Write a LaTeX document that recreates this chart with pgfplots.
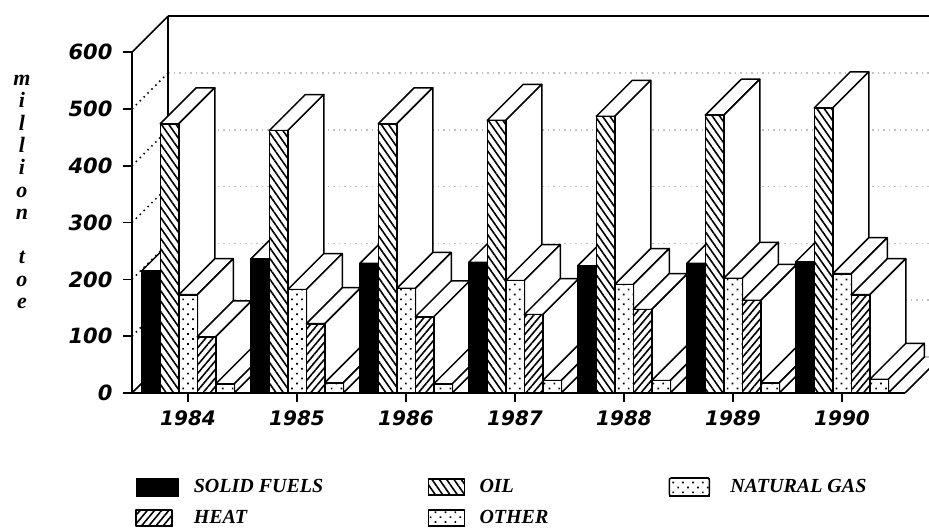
\documentclass[border=0pt]{standalone}
\usepackage{fontspec}
\setmainfont{Liberation Serif}
\newfontfamily\djv{DejaVu Sans}
\newfontfamily\lser{Liberation Serif}
\usepackage{pgfplots}
\pgfplotsset{compat=1.18}
\usepackage{pgfplotstable}
\usetikzlibrary{patterns.meta}

\newcommand\tickfnt{\djv\bfseries\itshape\fontsize{21}{24}\selectfont}
\newcommand\yearfnt{\djv\bfseries\itshape\fontsize{20}{24}\selectfont}
\newcommand\legfnt{\lser\bfseries\itshape\fontsize{20}{24}\selectfont}
\newcommand\labfnt{\lser\bfseries\itshape\fontsize{22}{22.3}\selectfont}

% yr = year index (0 = 1984), k = series (0 solid fuels, 1 oil, 2 natural gas, 3 heat, 4 other)
\pgfplotstableread{
yr k val
0 0 215
0 1 474
0 2 173
0 3 99
0 4 16
1 0 236
1 1 462
1 2 182
1 3 122
1 4 18
2 0 228
2 1 474
2 2 184
2 3 134
2 4 16
3 0 230
3 1 480
3 2 198
3 3 138
3 4 22
4 0 224
4 1 487
4 2 191
4 3 147
4 4 22
5 0 228
5 1 489
5 2 202
5 3 163
5 4 18
6 0 231
6 1 502
6 2 210
6 3 173
6 4 24
}\energydata

\tikzset{
  lw/.style={line width=1.5pt, line join=round},
  dotgrid/.style={line width=1.5pt, dash pattern=on 1.5pt off 4pt},
  oilpat/.style={pattern={Lines[angle=-55,distance=6pt,line width=1.6pt]}, pattern color=black},
  heatpat/.style={pattern={Lines[angle=50,distance=5.5pt,line width=1.6pt]}, pattern color=black},
  gaspat/.style={pattern={Dots[angle=45,distance=7pt,radius=1.2pt]}, pattern color=black},
}

\pgfdeclareplotmark{bar3d}{%
  \pgfmathsetmacro\bh{\barval*0.568}%
  \pgfmathsetmacro\sb{36-\bh}%
  \pgfmathtruncatemacro\bk{\barkind}%
  \draw[lw, fill=white] (-9.25pt,0pt) -- (9.25pt,0pt) -- (45.25pt,36pt) -- (26.75pt,36pt) -- cycle;
  \draw[lw, fill=white] (9.25pt,0pt) -- (45.25pt,36pt) -- (45.25pt,\sb pt) -- (9.25pt,-\bh pt) -- cycle;
  \fill[white] (-9.25pt,-\bh pt) rectangle (9.25pt,0pt);
  \ifcase\bk\relax
    \fill[black] (-9.25pt,-\bh pt) rectangle (9.25pt,0pt);
  \or
    \fill[oilpat] (-9.25pt,-\bh pt) rectangle (9.25pt,0pt);
  \or
    \fill[gaspat] (-9.25pt,-\bh pt) rectangle (9.25pt,0pt);
  \or
    \fill[heatpat] (-9.25pt,-\bh pt) rectangle (9.25pt,0pt);
  \or
    \fill[gaspat] (-9.25pt,-\bh pt) rectangle (9.25pt,0pt);
  \fi
  \draw[lw] (-9.25pt,-\bh pt) rectangle (9.25pt,0pt);
}

\begin{document}
\begin{tikzpicture}[x=1pt,y=1pt]
\useasboundingbox (0,0) rectangle (929,532);
\clip (0,0) rectangle (929,532);
% back wall
\begin{axis}[
  at={(168pt,175pt)}, anchor=south west,
  x=109pt, y=0.568pt, xmin=-0.514, xmax=6.578, ymin=0, ymax=600,
  axis x line*=top, axis y line*=left,
  axis line style={line width=1.6pt},
  xtick=\empty, ytick={100,200,300,400,500}, yticklabels={},
  major tick length=0pt,
  ymajorgrids, major grid style={dotgrid},
  extra y ticks={0}, extra y tick labels={},
  extra y tick style={grid=major, major grid style={solid, line width=1.6pt}},
]
\end{axis}
% front
\begin{axis}[
  at={(132pt,139pt)}, anchor=south west,
  x=109pt, y=0.568pt, xmin=-0.514, xmax=6.578, ymin=0, ymax=600,
  clip=false,
  axis x line*=bottom, axis y line*=left,
  axis line style={line width=1.6pt},
  tick align=outside, major tick length=9pt,
  tick style={line width=1.6pt, black},
  xtick={0,1,2,3,4,5,6},
  xticklabels={1984,1985,1986,1987,1988,1989,1990},
  ytick={0,100,200,300,400,500,600},
  /pgf/number format/assume math mode=true,
  yticklabel style={font=\tickfnt, xshift=-7pt},
  xticklabel style={font=\yearfnt, yshift=-5pt},
  ylabel={m\\i\\l\\l\\i\\o\\n\\ \\t\\o\\e},
  ylabel style={rotate=-90, align=center, font=\labfnt, at={(axis description cs:-0.1423,0.590)}, anchor=center},
  legend columns=3,
  legend cell align=left,
  legend style={at={(axis description cs:0.0039,-0.2303)}, anchor=north west, draw=none, fill=none,
    inner sep=0pt, outer sep=0pt, column sep=0pt, row sep=0pt,
    nodes={inner sep=0pt, font=\legfnt}},
]
\pgfplotsinvokeforeach{100,200,300,400,500}{
  \draw[dotgrid] (axis cs:-0.514,#1) -- ++(36pt,36pt);
}
\draw[line width=1.6pt] (axis cs:-0.514,600) -- ++(36pt,36pt);
\draw[line width=1.6pt] (axis cs:-0.514,0) -- ++(36pt,36pt);
\draw[line width=1.6pt] (axis cs:6.578,0) -- ++(36pt,36pt);

\addplot[forget plot, scatter, only marks, mark=bar3d,
  scatter/@pre marker code/.code={}, scatter/@post marker code/.code={},
  visualization depends on={\thisrow{k} \as \barkind},
  visualization depends on={rawy \as \barval},
] table[x expr={\thisrow{yr}+(\thisrow{k}-2)*0.16972}, y=val] {\energydata};

\addlegendimage{legend image code/.code={\path[draw=none,fill=none] (0pt,-15.5pt) rectangle (58pt,15.5pt); \fill[black] (0pt,-9pt) rectangle (42pt,9pt);}}
\addlegendentry{\makebox[234pt][l]{SOLID FUELS}}
\addlegendimage{legend image code/.code={\path[draw=none,fill=none] (0pt,-15.5pt) rectangle (51pt,15.5pt); \fill[white] (0pt,-8pt) rectangle (36pt,8pt); \fill[oilpat] (0pt,-8pt) rectangle (36pt,8pt); \draw[lw,black] (0pt,-8pt) rectangle (36pt,8pt);}}
\addlegendentry{\makebox[189pt][l]{OIL}}
\addlegendimage{legend image code/.code={\path[draw=none,fill=none] (0pt,-15.5pt) rectangle (61pt,15.5pt); \fill[gaspat] (0pt,-9pt) rectangle (40pt,9pt); \draw[lw, black, rounded corners=2pt] (0pt,-9pt) rectangle (40pt,9pt);}}
\addlegendentry{NATURAL GAS}
\addlegendimage{legend image code/.code={\path[draw=none,fill=none] (0pt,-15.5pt) rectangle (58pt,15.5pt); \fill[heatpat] (0pt,-8pt) rectangle (36pt,8pt); \draw[lw,black] (0pt,-8pt) rectangle (36pt,8pt);}}
\addlegendentry{\makebox[234pt][l]{HEAT}}
\addlegendimage{legend image code/.code={\path[draw=none,fill=none] (0pt,-15.5pt) rectangle (51pt,15.5pt); \fill[gaspat] (0pt,-8pt) rectangle (36pt,8pt); \draw[lw,black] (0pt,-8pt) rectangle (36pt,8pt);}}
\addlegendentry{\makebox[189pt][l]{OTHER}}
\end{axis}
\end{tikzpicture}
\end{document}
